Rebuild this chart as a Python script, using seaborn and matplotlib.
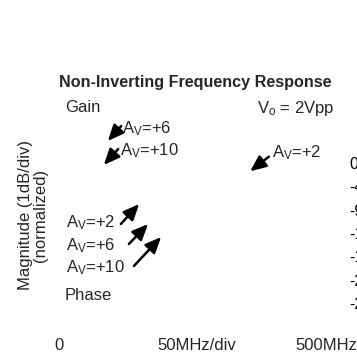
import matplotlib
matplotlib.use("Agg")
import matplotlib.pyplot as plt
import seaborn as sns

sns.set_theme(style="white")
plt.rcParams["font.family"] = ["Liberation Sans", "DejaVu Sans"]
plt.rcParams["mathtext.fontset"] = "custom"
plt.rcParams["mathtext.rm"] = "Liberation Sans"
plt.rcParams["mathtext.it"] = "Liberation Sans"

W, H = 357, 359

title = "Non-Inverting Frequency Response"
ylabel = "Magnitude (1dB/div)\n(normalized)"
x_tick_labels = ["0", "50MHz/div", "500MHz"]
phase_ticks = [0, -45, -90, -135, -180, -225, -270]
gain_labels = [r"A$_\mathrm{V}$=+6", r"A$_\mathrm{V}$=+10", r"A$_\mathrm{V}$=+2"]
phase_labels = [r"A$_\mathrm{V}$=+2", r"A$_\mathrm{V}$=+6", r"A$_\mathrm{V}$=+10"]

fig = plt.figure(figsize=(W / 100, H / 100), dpi=100)

def fx(x):
    return x / W

def fy(y):
    return 1 - y / H

# plot area (no visible frame)
ax = fig.add_axes([fx(58), fy(320), fx(345) - fx(58), fy(100) - fy(320)])
ax.set_xlim(0, 500)
ax.set_ylim(-10, 1)
for s in ax.spines.values():
    s.set_visible(False)
ax.set_xticks([])
ax.set_yticks([])

# phase axis on right (mostly clipped at figure edge)
ax2 = ax.twinx()
ax2.set_ylim(-302.8, 121.5)
ax2.set_yticks(phase_ticks)
ax2.set_yticklabels([str(t) for t in phase_ticks], fontsize=11.5, color="black")
ax2.tick_params(axis="y", length=0, pad=2.8)
for s in ax2.spines.values():
    s.set_visible(False)
ax2.grid(False)
ax.grid(False)

fs = 12
fig.text(fx(195), fy(83), title, ha="center", va="center", fontsize=11.6, fontweight="bold")
fig.text(fx(33), fy(215), ylabel, ha="center", va="center", rotation=90,
         fontsize=12, multialignment="center", linespacing=1.0)

# x labels
fig.text(fx(59), fy(345), x_tick_labels[0], ha="center", va="center", fontsize=fs)
fig.text(fx(197), fy(345), x_tick_labels[1], ha="center", va="center", fontsize=fs)
fig.text(fx(357), fy(345), x_tick_labels[2], ha="right", va="center", fontsize=fs)

# labels
fig.text(fx(65), fy(108), "Gain", ha="left", va="center", fontsize=fs)
fig.text(fx(334), fy(108), r"V$_\mathrm{o}$ = 2Vpp", ha="right", va="center", fontsize=fs)
fig.text(fx(65), fy(296), "Phase", ha="left", va="center", fontsize=fs)

arrow = dict(arrowstyle="-|>,head_length=0.8,head_width=0.35", color="black", lw=1.8)

def ann(label, text_xy, tip, tail, ha="left"):
    fig.text(fx(text_xy[0]), fy(text_xy[1]), label, ha=ha, va="center", fontsize=fs)
    ax.annotate("", xy=(tip[0], H - tip[1]), xytext=(tail[0], H - tail[1]),
                xycoords="figure pixels", textcoords="figure pixels",
                arrowprops=arrow)

ann(gain_labels[0], (122, 129), (106, 143), (123, 124))
ann(gain_labels[1], (120, 151), (102, 167), (120, 147))
ann(gain_labels[2], (272, 153), (248, 173), (271, 155))

ann(phase_labels[0], (66, 223), (141, 202), (119, 226))
ann(phase_labels[1], (66, 246), (150, 222), (127, 246))
ann(phase_labels[2], (66, 268), (163, 235), (132, 268))

fig.savefig("out.png", dpi=100)
